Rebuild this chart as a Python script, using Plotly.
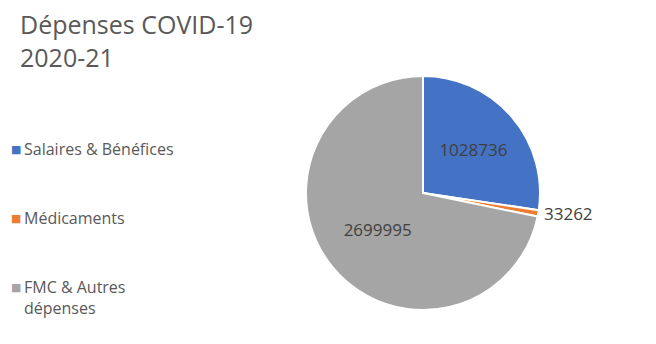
import plotly.graph_objects as go

categories = ["Salaires & Bénéfices", "Médicaments", "FMC & Autres<br>dépenses"]
values = [1028736, 33262, 2699995]
colors = ["#4472C4", "#ED7D31", "#A5A5A5"]
title_text = "Dépenses COVID-19<br>2020-21"

W, H = 656, 344
cx, cy, r = 423, 193, 117

fig = go.Figure()
fig.add_trace(go.Pie(
    labels=categories,
    values=values,
    text=[str(v) for v in values],
    textinfo="text",
    textposition=["inside", "outside", "inside"],
    insidetextorientation="horizontal",
    sort=False,
    direction="clockwise",
    rotation=0,
    marker=dict(colors=colors, line=dict(color="white", width=2)),
    textfont=dict(family="Open Sans", size=17, color="#404040"),
    domain=dict(x=[(cx - r) / W, (cx + r) / W], y=[1 - (cy + r) / H, 1 - (cy - r) / H]),
    showlegend=False,
    hoverinfo="label+value",
))

# Title
fig.add_annotation(
    text=title_text, x=18 / W, y=1 - 5 / H, xref="paper", yref="paper",
    xanchor="left", yanchor="top", align="left", showarrow=False,
    font=dict(family="Open Sans", size=25, color="#595959"),
)

# Legend (manual, to match spacing)
legend_y = [149, 218, 297]
square_y = [149, 218, 287]
for name, col, ly, sy in zip(categories, colors, legend_y, square_y):
    fig.add_annotation(
        text="■", x=9 / W, y=1 - sy / H, xref="paper", yref="paper",
        xanchor="left", yanchor="middle", showarrow=False,
        font=dict(family="DejaVu Sans", size=11, color=col),
    )
    fig.add_annotation(
        text=name, x=22 / W, y=1 - ly / H, xref="paper", yref="paper",
        xanchor="left", yanchor="middle", align="left", showarrow=False,
        font=dict(family="Open Sans", size=16, color="#595959"),
    )

fig.update_layout(
    width=W, height=H,
    margin=dict(l=0, r=0, t=0, b=0),
    paper_bgcolor="white", plot_bgcolor="white",
)

fig.write_html("out.html", config={"displayModeBar": False},
               post_script="document.body.style.margin='0';")
